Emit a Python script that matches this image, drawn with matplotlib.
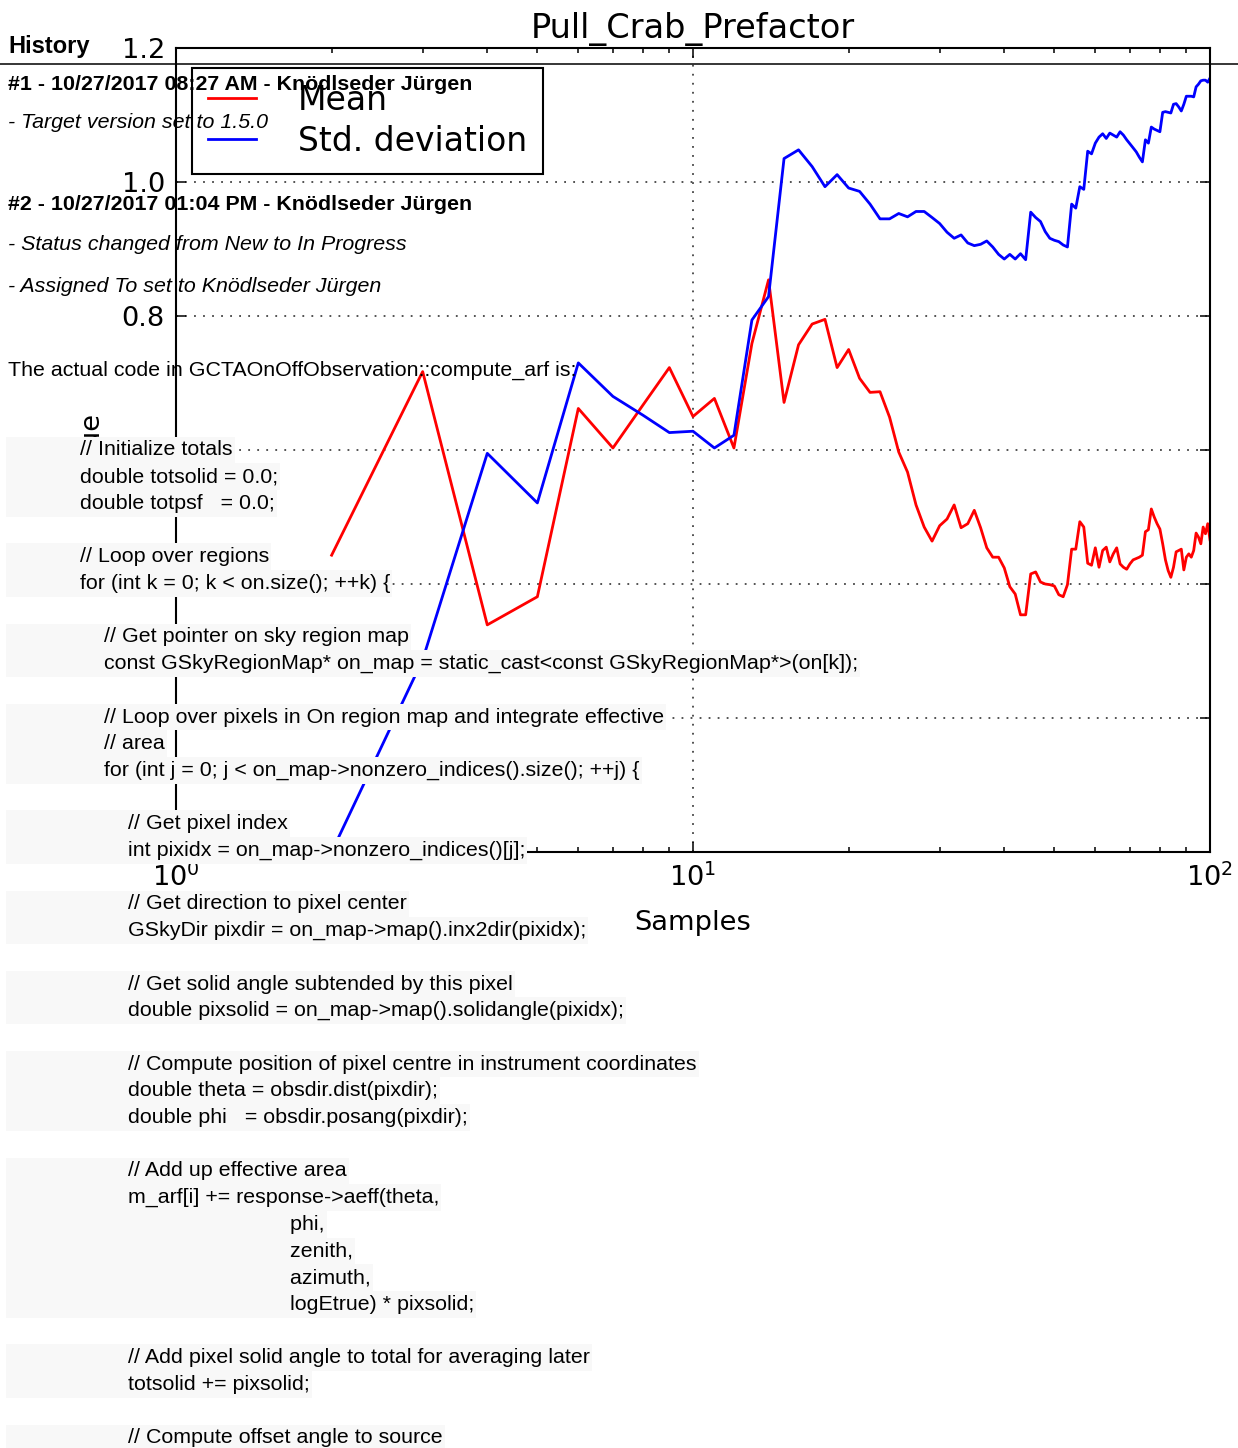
import matplotlib
matplotlib.use("Agg")
import matplotlib.pyplot as plt
from matplotlib.patches import Rectangle
from matplotlib.lines import Line2D

W, H = 1238, 1448

# pull statistics vs number of samples
samples = list(range(2, 101))
mean = [0.443, 0.717, 0.339, 0.381, 0.662, 0.603, 0.667, 0.723, 0.650, 0.677,
        0.603, 0.759, 0.854, 0.671, 0.757, 0.788, 0.795, 0.723, 0.750, 0.707,
        0.686, 0.687, 0.649, 0.597, 0.567, 0.518, 0.485, 0.464, 0.487, 0.497,
        0.518, 0.484, 0.490, 0.510, 0.484, 0.454, 0.440, 0.440, 0.424, 0.396,
        0.385, 0.354, 0.354, 0.415, 0.418, 0.403, 0.400, 0.399, 0.397, 0.384,
        0.381, 0.399, 0.452, 0.452, 0.493, 0.485, 0.431, 0.428, 0.454, 0.425,
        0.450, 0.455, 0.433, 0.445, 0.454, 0.430, 0.425, 0.422, 0.430, 0.436,
        0.438, 0.440, 0.443, 0.478, 0.481, 0.512, 0.500, 0.490, 0.482, 0.460,
        0.436, 0.420, 0.410, 0.425, 0.448, 0.450, 0.452, 0.421, 0.440, 0.445,
        0.440, 0.450, 0.476, 0.470, 0.460, 0.485, 0.475, 0.490, 0.466]
std = [0.000, 0.287, 0.595, 0.521, 0.730, 0.680, 0.652, 0.626, 0.628, 0.603,
       0.622, 0.794, 0.829, 1.035, 1.048, 1.023, 0.993, 1.011, 0.991, 0.986,
       0.967, 0.945, 0.945, 0.953, 0.948, 0.956, 0.956, 0.947, 0.938, 0.925,
       0.916, 0.921, 0.909, 0.905, 0.907, 0.912, 0.903, 0.892, 0.885, 0.892,
       0.885, 0.893, 0.884, 0.955, 0.947, 0.941, 0.926, 0.916, 0.913, 0.911,
       0.906, 0.903, 0.967, 0.961, 0.993, 0.989, 1.046, 1.042, 1.058, 1.067,
       1.072, 1.065, 1.073, 1.070, 1.067, 1.075, 1.070, 1.063, 1.057, 1.051,
       1.045, 1.037, 1.030, 1.063, 1.058, 1.082, 1.079, 1.077, 1.075, 1.104,
       1.105, 1.104, 1.103, 1.116, 1.117, 1.112, 1.106, 1.116, 1.128, 1.128,
       1.128, 1.127, 1.142, 1.146, 1.151, 1.152, 1.152, 1.149, 1.155]

y_ticks = [0.0, 0.2, 0.4, 0.6, 0.8, 1.0, 1.2]

# issue page text
history_title = "History"
journal = [
    ("#1 - 10/27/2017 08:27 AM - Knödlseder Jürgen", "bold", 84),
    ("- Target version set to 1.5.0", "italic", 123),
    ("#2 - 10/27/2017 01:04 PM - Knödlseder Jürgen", "bold", 205),
    ("- Status changed from New to In Progress", "italic", 245),
    ("- Assigned To set to Knödlseder Jürgen", "italic", 287),
    ("The actual code in GCTAOnOffObservation::compute_arf is:", "normal", 370),
]
code_lines = [
    "            // Initialize totals",
    "            double totsolid = 0.0;",
    "            double totpsf   = 0.0;",
    "",
    "            // Loop over regions",
    "            for (int k = 0; k < on.size(); ++k) {",
    "",
    "                // Get pointer on sky region map",
    "                const GSkyRegionMap* on_map = static_cast<const GSkyRegionMap*>(on[k]);",
    "",
    "                // Loop over pixels in On region map and integrate effective",
    "                // area",
    "                for (int j = 0; j < on_map->nonzero_indices().size(); ++j) {",
    "",
    "                    // Get pixel index",
    "                    int pixidx = on_map->nonzero_indices()[j];",
    "",
    "                    // Get direction to pixel center",
    "                    GSkyDir pixdir = on_map->map().inx2dir(pixidx);",
    "",
    "                    // Get solid angle subtended by this pixel",
    "                    double pixsolid = on_map->map().solidangle(pixidx);",
    "",
    "                    // Compute position of pixel centre in instrument coordinates",
    "                    double theta = obsdir.dist(pixdir);",
    "                    double phi   = obsdir.posang(pixdir);",
    "",
    "                    // Add up effective area",
    "                    m_arf[i] += response->aeff(theta,",
    "                                               phi,",
    "                                               zenith,",
    "                                               azimuth,",
    "                                               logEtrue) * pixsolid;",
    "",
    "                    // Add pixel solid angle to total for averaging later",
    "                    totsolid += pixsolid;",
    "",
    "                    // Compute offset angle to source",
]


def fx(px):
    return px / W


def fy(py):
    return 1 - py / H


fig = plt.figure(figsize=(W / 100, H / 100), dpi=100)
fig.patch.set_facecolor("white")

ax = fig.add_axes([fx(176), fy(852), 1034 / W, 804 / H])
ax.plot(samples, mean, color="red", lw=2.0, label="Mean")
ax.plot(samples, std, color="blue", lw=2.0, label="Std. deviation")
ax.set_xscale("log")
ax.set_xlim(1, 100)
ax.set_ylim(0, 1.2)
ax.set_yticks(y_ticks)

ax.set_title("Pull_Crab_Prefactor", fontsize=24.2, pad=7)
ax.set_xlabel("Samples", fontsize=19.6, labelpad=13)
ax.set_ylabel("Value", fontsize=19.6, labelpad=11)

ax.tick_params(which="both", direction="in", top=True, right=True,
               labelsize=19.6, width=1.1)
ax.tick_params(which="major", length=7.2, pad=8)
ax.tick_params(which="minor", length=3.6)
for sp in ax.spines.values():
    sp.set_linewidth(1.5)
ax.grid(True, which="major", linestyle=(0, (1, 4)), color="#444444", linewidth=1.3)

leg = ax.legend(loc="upper left", bbox_to_anchor=(16 / 1034, 1 - 20 / 804),
                borderaxespad=0, fontsize=23.8, fancybox=False, framealpha=1,
                edgecolor="black", handlelength=1.47, handletextpad=1.25,
                borderpad=0.48, labelspacing=0.24)
leg.get_frame().set_linewidth(1.5)

# page content drawn over the chart
WEB_FONT = "Liberation Sans"
fig.text(fx(8), fy(46), history_title, ha="left", va="center", fontsize=17,
         fontweight="bold", family=WEB_FONT, zorder=6)
fig.add_artist(Line2D([0, 1], [fy(64), fy(64)], transform=fig.transFigure,
                      color="black", lw=1.1, zorder=6))

for text, style, py in journal:
    kw = dict(ha="left", va="center", fontsize=15.4, family=WEB_FONT, zorder=6)
    if style == "bold":
        kw["fontweight"] = "bold"
    elif style == "italic":
        kw["fontstyle"] = "italic"
    fig.text(fx(8), fy(py), text, **kw)

renderer = fig.canvas.get_renderer()
y0, step = 450, 26.7
for i, line in enumerate(code_lines):
    if not line:
        continue
    yc = y0 + i * step
    t = fig.text(fx(8), fy(yc), line, ha="left", va="center", fontsize=15.4,
                 family=WEB_FONT, zorder=6)
    bb = t.get_window_extent(renderer)
    fig.add_artist(Rectangle((fx(6), fy(yc + step / 2)), (bb.x1 + 2 - 6) / W, step / H,
                             transform=fig.transFigure, facecolor="#f8f8f8",
                             edgecolor="none", zorder=5))

fig.savefig("out.png", dpi=100)
